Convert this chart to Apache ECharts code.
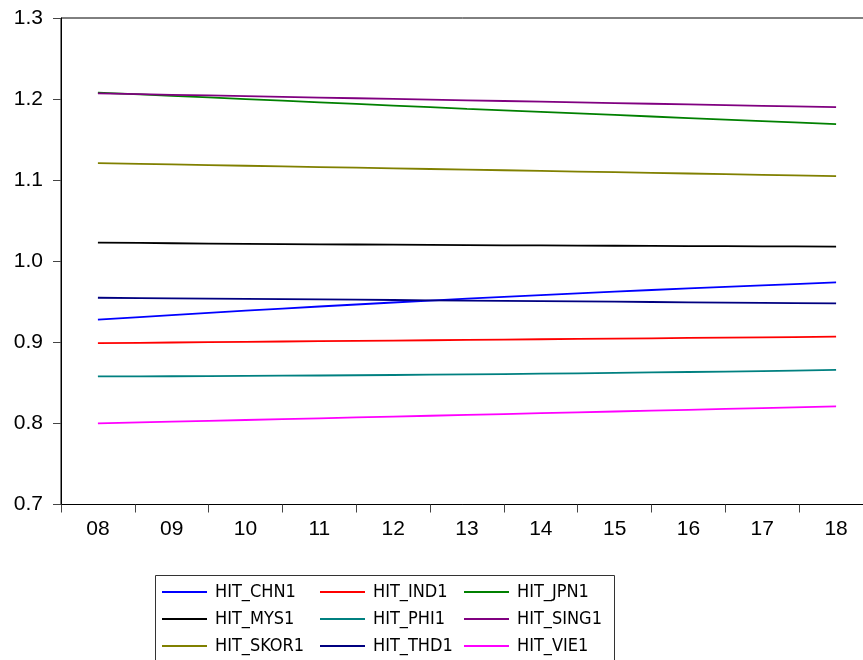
<!DOCTYPE html>
<html>
<head>
<meta charset="utf-8">
<script src="https://cdn.jsdelivr.net/npm/echarts@6/dist/echarts.min.js"></script>
<style>html,body{margin:0;padding:0;background:#fff}#c{width:863px;height:660px}</style>
</head>
<body>
<div id="c"></div>
<script>
var categories = ['08','09','10','11','12','13','14','15','16','17','18'];
var HIT_CHN1  = [0.928, 0.9336, 0.9390, 0.9442, 0.9491, 0.9538, 0.9583, 0.9625, 0.9665, 0.9703, 0.974];
var HIT_IND1  = [0.899, 0.8998, 0.9006, 0.9014, 0.9022, 0.9030, 0.9038, 0.9046, 0.9054, 0.9062, 0.907];
var HIT_JPN1  = [1.208, 1.204, 1.200, 1.196, 1.192, 1.188, 1.1842, 1.1804, 1.1766, 1.1728, 1.169];
var HIT_MYS1  = [1.023, 1.0222, 1.0215, 1.0209, 1.0204, 1.0199, 1.0195, 1.0191, 1.0187, 1.0184, 1.018];
var HIT_PHI1  = [0.858, 0.8582, 0.8586, 0.8591, 0.8597, 0.8605, 0.8613, 0.8623, 0.8634, 0.8646, 0.866];
var HIT_SING1 = [1.207, 1.2053, 1.2036, 1.2019, 1.2002, 1.1985, 1.1968, 1.1951, 1.1934, 1.1917, 1.190];
var HIT_SKOR1 = [1.121, 1.1194, 1.1178, 1.1162, 1.1146, 1.1130, 1.1114, 1.1098, 1.1082, 1.1066, 1.105];
var HIT_THD1  = [0.955, 0.9543, 0.9536, 0.9529, 0.9522, 0.9515, 0.9508, 0.9501, 0.9494, 0.9487, 0.948];
var HIT_VIE1  = [0.800, 0.8021, 0.8042, 0.8063, 0.8084, 0.8105, 0.8126, 0.8147, 0.8168, 0.8189, 0.821];

var seriesDefs = [
  ['HIT_CHN1', HIT_CHN1, '#0000ff'],
  ['HIT_IND1', HIT_IND1, '#ff0000'],
  ['HIT_JPN1', HIT_JPN1, '#008000'],
  ['HIT_MYS1', HIT_MYS1, '#000000'],
  ['HIT_PHI1', HIT_PHI1, '#008080'],
  ['HIT_SING1', HIT_SING1, '#800080'],
  ['HIT_SKOR1', HIT_SKOR1, '#808000'],
  ['HIT_THD1', HIT_THD1, '#000080'],
  ['HIT_VIE1', HIT_VIE1, '#ff00ff']
];

var chart = echarts.init(document.getElementById('c'));
var legendText = {fontFamily: "'DejaVu Sans Condensed', 'Liberation Sans', Arial, sans-serif", fontSize: 18, color: '#000', lineHeight: 20, padding: [0, 0, 0, 3]};
function legendCol(left, names) {
  return {
    orient: 'vertical', left: left, top: 582, padding: 0,
    itemWidth: 45, itemHeight: 2, itemGap: 7, icon: 'rect',
    selectedMode: false, textStyle: legendText, data: names
  };
}
chart.setOption({
  animation: false,
  color: seriesDefs.map(function(d){return d[2];}),
  grid: {left: 61, top: 18, right: -10, bottom: 155.5, show: true, borderColor: '#000', borderWidth: 1, outerBoundsMode: 'none', containLabel: false},
  legend: [
    legendCol(162, ['HIT_CHN1','HIT_MYS1','HIT_SKOR1']),
    legendCol(320, ['HIT_IND1','HIT_PHI1','HIT_THD1']),
    legendCol(464, ['HIT_JPN1','HIT_SING1','HIT_VIE1'])
  ],
  graphic: [{
    type: 'rect', left: 153, top: 573, silent: true,
    shape: {width: 459, height: 100},
    style: {fill: 'none', stroke: '#333', lineWidth: 1}
  }],
  xAxis: {
    type: 'category', data: categories, boundaryGap: true,
    axisLine: {lineStyle: {color: '#000', width: 1}},
    axisTick: {show: true, length: 8, inside: false, lineStyle: {color: '#444'}},
    axisLabel: {margin: 14, fontSize: 21, color: '#000', fontFamily: "'Liberation Sans', Arial, sans-serif"},
    splitLine: {show: false}
  },
  yAxis: {
    type: 'value', min: 0.7, max: 1.3, interval: 0.1,
    axisLine: {show: true, lineStyle: {color: '#000', width: 1}},
    axisTick: {show: true, length: 8, lineStyle: {color: '#444'}},
    axisLabel: {margin: 18, fontSize: 21, color: '#000', fontFamily: "'Liberation Sans', Arial, sans-serif",
      formatter: function(v){return v.toFixed(1);}},
    splitLine: {show: false}
  },
  series: seriesDefs.map(function(d){
    return {name: d[0], type: 'line', data: d[1], smooth: 0.3, showSymbol: false, symbol: 'none',
      lineStyle: {color: d[2], width: 1.8}, itemStyle: {color: d[2]}};
  })
});
</script>
</body>
</html>
